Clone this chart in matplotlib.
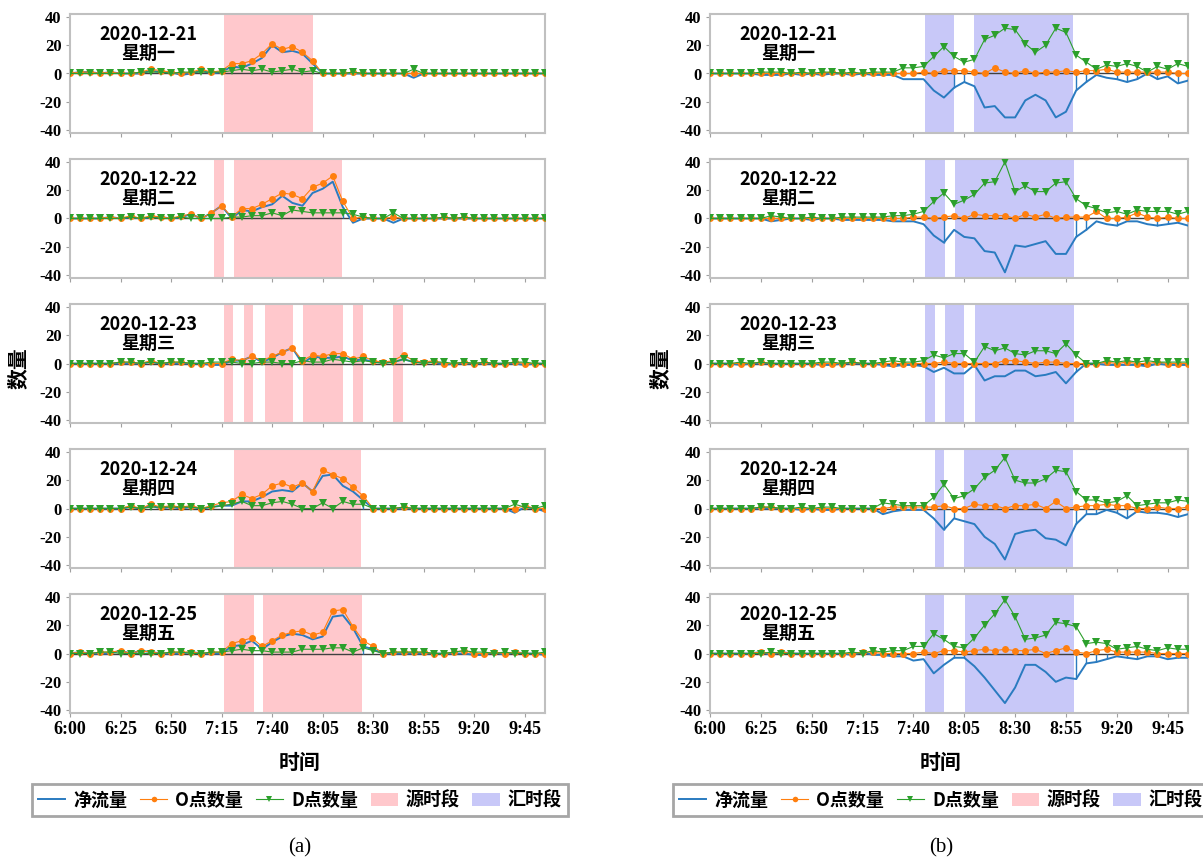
import numpy as np
import matplotlib.pyplot as plt
from matplotlib.lines import Line2D
from matplotlib.patches import Patch

plt.rcParams['font.family'] = ['Noto Sans CJK SC', 'DejaVu Sans']

# 5-minute slots 6:00 ... 9:55
tick_labels = ['6:00', '6:25', '6:50', '7:15', '7:40', '8:05', '8:30', '8:55', '9:20', '9:45']
dates = ['2020-12-21', '2020-12-22', '2020-12-23', '2020-12-24', '2020-12-25']
weekdays = ['星期一', '星期二', '星期三', '星期四', '星期五']

# (a) O / D counts
a_o1 = [0,1,1,0,1,0,0,1,3,2, 1,0,1,3,1,2,7,7,9,14, 21,17,19,15,9,0,0,0,1,0, 0,0,0,0,0,0,0,0,0,0, 0,0,0,0,0,0,0,0]
a_d1 = [0,0,0,0,0,0,0,1,1,1, 0,1,1,1,1,1,2,3,2,3, 1,2,3,1,2,0,0,0,1,0, 0,0,0,0,3,0,0,0,0,0, 0,0,0,0,0,0,0,0]
a_o2 = [0,0,0,0,1,0,2,0,2,1, 0,2,3,0,4,9,1,7,7,10, 14,18,17,14,22,25,30,12,0,1, 0,0,1,0,0,0,0,1,0,1, 0,0,0,0,0,0,0,0]
a_d2 = [0,0,0,0,0,0,1,0,1,0, 0,1,0,0,0,0,1,1,2,2, 4,2,6,5,4,4,4,4,3,1, 0,0,4,0,0,0,0,1,0,1, 0,0,0,0,0,0,0,0]
a_o3 = [0,0,0,0,0,1,1,0,2,0, 1,1,0,0,0,0,3,2,5,2, 5,8,11,2,6,5,7,7,3,5, 2,1,2,6,2,1,2,0,0,1, 0,1,0,0,1,0,0,0]
a_d3 = [0,0,0,0,0,1,1,0,1,0, 1,1,0,0,1,1,1,0,0,1, 1,0,0,2,1,1,3,2,1,2, 1,0,1,3,1,0,1,1,0,1, 0,1,0,0,1,1,0,0]
a_o4 = [0,0,0,0,0,0,2,0,3,1, 2,1,2,0,2,4,5,10,7,10, 16,18,15,18,12,27,24,21,15,9, 0,0,0,1,0,0,0,0,0,0, 0,0,0,0,0,2,0,0]
a_d4 = [0,0,0,0,0,0,1,0,1,1, 1,1,1,0,1,2,3,5,2,2, 4,5,3,0,0,4,0,5,3,3, 0,0,0,1,0,0,0,0,0,0, 0,0,0,0,3,1,0,2]
a_o5 = [0,1,0,1,1,2,0,2,1,0, 1,1,1,0,1,1,7,9,11,5, 9,13,15,16,13,15,30,31,19,9, 5,0,1,1,1,1,0,0,1,2, 0,0,1,0,1,0,0,0]
a_d5 = [0,0,0,1,1,0,0,0,0,0, 1,1,0,0,1,1,2,3,2,2, 1,1,1,3,3,3,4,4,1,4, 2,0,1,1,1,1,0,0,1,2, 1,1,0,1,0,0,0,1]

# (b) O / D counts
b_o1 = [0,0,0,0,0,0,0,0,0,0, 0,0,1,0,0,0,0,0,0,0, 0,1,0,2,2,2,1,0,4,1, 0,2,0,1,1,2,1,2,2,3, 1,1,1,1,1,1,0,0]
b_d1 = [0,0,0,0,0,1,1,1,0,1, 0,1,1,0,1,0,1,1,1,4, 4,5,12,19,12,8,10,24,27,32, 31,21,15,20,32,29,13,8,3,6, 5,7,5,1,5,3,7,5]
b_o2 = [0,0,0,0,0,0,0,0,0,0, 0,0,0,0,0,0,0,0,0,0, 1,1,0,1,2,0,3,2,2,2, 0,3,1,3,0,1,1,1,5,0, 0,1,4,1,0,1,0,0]
b_d2 = [0,0,0,0,0,0,2,1,0,0, 1,0,0,1,1,1,1,1,2,2, 3,5,12,18,10,13,17,25,26,40, 19,23,19,19,25,26,14,9,7,4, 5,3,6,5,5,5,3,5]
b_o3 = [0,0,0,0,0,1,0,0,0,0, 0,0,0,0,1,0,0,0,0,0, 0,0,0,1,0,0,0,0,0,2, 2,1,0,1,1,0,0,0,0,1, 0,1,0,0,1,0,0,0]
b_d3 = [0,0,0,1,0,1,0,0,0,0, 0,1,1,0,1,0,0,1,2,1, 1,2,6,4,7,7,1,12,9,11, 7,6,9,9,7,14,6,0,0,2, 1,2,1,2,1,1,1,1]
b_o4 = [0,0,0,0,0,1,1,0,0,0, 0,0,0,0,0,0,0,0,1,1, 1,1,1,2,0,0,3,2,2,0, 2,2,3,0,5,0,1,2,2,3, 2,2,0,0,1,0,0,1]
b_d4 = [0,0,0,0,0,1,1,0,0,1, 0,1,1,0,0,0,0,4,3,2, 2,2,8,17,7,9,14,22,27,36, 20,18,18,21,27,26,12,6,6,4, 5,9,2,3,4,4,6,5]
b_o5 = [0,0,0,0,0,1,0,1,0,0, 0,0,0,0,0,1,1,0,0,0, 0,1,0,2,2,1,2,3,2,3, 2,2,3,0,2,4,1,0,2,3, 1,1,1,1,0,0,0,0]
b_d5 = [0,0,0,0,0,0,1,0,0,0, 0,0,0,0,1,0,2,1,2,2, 5,5,14,10,5,4,11,20,28,38, 26,10,11,13,22,21,19,7,8,7, 3,4,5,3,2,4,3,3]

# shaded periods, in slot units
src_spans = [
    [(15.2, 24.0)],
    [(14.2, 15.2), (16.2, 26.9)],
    [(15.2, 16.1), (17.2, 18.1), (19.25, 22.1), (23.1, 27.0), (28.0, 29.0), (32.0, 32.9)],
    [(16.2, 28.8)],
    [(15.2, 18.2), (19.1, 28.9)],
]
sink_spans = [
    [(21.1, 24.0), (26.0, 35.7)],
    [(21.15, 23.15), (24.1, 35.8)],
    [(21.1, 22.1), (23.1, 25.0), (26.05, 35.8)],
    [(22.1, 23.0), (25.0, 35.7)],
    [(21.1, 23.0), (25.06, 35.8)],
]
# slots where the net line drops to the axis
a_drops = [[], [27], [], [29], [29]]
b_drops = [[24, 25, 36, 37, 40, 41, 42, 44, 46],
           [23, 36, 37, 40, 41, 44, 45, 46],
           [36],
           [23, 24, 36, 37, 38, 40, 41, 43, 44, 46],
           [24, 25, 36, 37, 38, 39, 41, 42, 44, 46]]

a_o = [a_o1, a_o2, a_o3, a_o4, a_o5]
a_d = [a_d1, a_d2, a_d3, a_d4, a_d5]
b_o = [b_o1, b_o2, b_o3, b_o4, b_o5]
b_d = [b_d1, b_d2, b_d3, b_d4, b_d5]

c_net = '#2A7BC0'
c_o = '#FF7F0E'
c_d = '#2CA02C'
c_src = '#FFC8CC'
c_sink = '#C8C8F8'

W, H = 1203, 863
fig = plt.figure(figsize=(W / 100, H / 100), dpi=100)

serif = 'Liberation Serif'
tops = [14, 159, 304, 449, 594]
row_h = 119
cols = [(70, 475), (710, 478)]


def draw_panel(ax, o, d, spans, shade, drops, date, wd, bottom):
    o = np.array(o)
    d = np.array(d)
    net = o - d
    t = np.arange(len(o))
    for s, e in spans:
        ax.axvspan(s, e, color=shade, lw=0, zorder=0)
    ax.axhline(0, color='#404040', lw=1.0, zorder=1)
    ax.plot(t, net, color=c_net, lw=1.4, zorder=3)
    if drops:
        ax.vlines(drops, 0, net[drops], color=c_net, lw=1.0, zorder=3)
    ax.plot(t, o, color=c_o, lw=0.8, marker='o', ms=5, mew=0, zorder=4)
    ax.plot(t, d, color=c_d, lw=0.8, marker='v', ms=5.5, mew=0, zorder=5)
    ax.set_xlim(0, 47)
    ax.set_ylim(-42, 42)
    ax.set_yticks([-40, -20, 0, 20, 40])
    ax.set_yticklabels(['-40', '-20', '0', '20', '40'], family=serif,
                       fontweight='bold', fontsize=12)
    ax.set_xticks(np.arange(0, 48, 5))
    if bottom:
        ax.set_xticklabels(tick_labels, family=serif, fontweight='bold', fontsize=13)
    else:
        ax.set_xticklabels([])
    ax.tick_params(axis='both', direction='out', length=3, color='#A0A0A0', pad=3)
    for sp in ax.spines.values():
        sp.set_color('#C0C0C0')
        sp.set_linewidth(1.5)
    ax.text(0.165, 0.83, date, transform=ax.transAxes, ha='center', va='center',
            fontsize=13, fontweight='bold')
    ax.text(0.165, 0.67, wd, transform=ax.transAxes, ha='center', va='center',
            fontsize=13, fontweight='bold')


for c, (x0, w) in enumerate(cols):
    for r in range(5):
        ax = fig.add_axes([x0 / W, 1 - (tops[r] + row_h) / H, w / W, row_h / H])
        if c == 0:
            draw_panel(ax, a_o[r], a_d[r], src_spans[r], c_src, a_drops[r],
                       dates[r], weekdays[r], r == 4)
        else:
            draw_panel(ax, b_o[r], b_d[r], sink_spans[r], c_sink, b_drops[r],
                       dates[r], weekdays[r], r == 4)

handles = [
    Line2D([], [], color=c_net, lw=1.4),
    Line2D([], [], color=c_o, lw=0.8, marker='o', ms=4, mew=0),
    Line2D([], [], color=c_d, lw=0.8, marker='v', ms=4, mew=0),
    Patch(facecolor=c_src, edgecolor='none'),
    Patch(facecolor=c_sink, edgecolor='none'),
]
labels = ['净流量', 'O点数量', 'D点数量', '源时段', '汇时段']

for cx, ylx, cap in [(300, 18, '(a)'), (941, 660, '(b)')]:
    fig.text(ylx / W, 1 - 368 / H, '数量', rotation=90, ha='center', va='center',
             fontsize=15, fontweight='bold')
    fig.text(cx / W, 1 - 762 / H, '时间', ha='center', va='center',
             fontsize=15, fontweight='bold')
    leg = fig.legend(handles, labels, loc='center', bbox_to_anchor=(cx / W, 1 - 800 / H),
                     ncol=5, prop={'weight': 'bold', 'size': 13}, handlelength=1.5,
                     handletextpad=0.45, columnspacing=0.7, borderpad=0.35,
                     fancybox=False, edgecolor='#A6A6A6', framealpha=1)
    leg.get_frame().set_linewidth(2)
    fig.text(cx / W, 1 - 848 / H, cap, ha='center', va='center', family=serif, fontsize=15)

fig.savefig('out.png', dpi=100)
